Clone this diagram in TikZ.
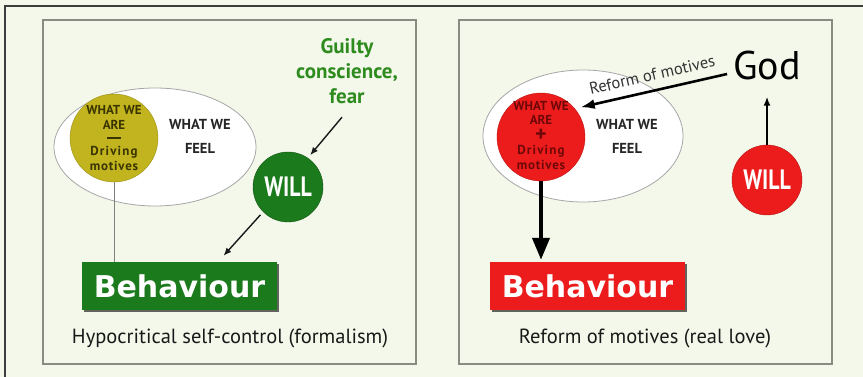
\documentclass[tikz,border=0pt]{standalone}
\usepackage{fontspec}
\usepackage{graphicx}
\setmainfont{PT Sans}
\newfontfamily\behfont{DejaVu Sans}
\usetikzlibrary{arrows.meta,shapes.geometric,shadows}
\definecolor{bg}{HTML}{F4F8EA}
\definecolor{panelline}{HTML}{8A8C84}
\definecolor{frameline}{HTML}{3C3C3C}
\definecolor{wgreen}{HTML}{1B7A1B}
\definecolor{tgreen}{HTML}{2E8B1E}
\definecolor{olive}{HTML}{C2B41E}
\definecolor{wred}{HTML}{EC1C1C}
\definecolor{darkred}{HTML}{6E0808}
\definecolor{olivetext}{HTML}{3A3500}
\begin{document}
\begin{tikzpicture}[x=1pt,y=-1pt,
  panel/.style={draw=panelline, line width=1.3pt},
  feelell/.style={ellipse, draw=gray!70, line width=0.8pt, fill=white, inner sep=0pt},
  corecircle/.style={circle, inner sep=0pt, minimum size=88pt},
  coretext/.style={inner sep=0pt, font=\bfseries\fontsize{13}{13}\selectfont},
  willcircle/.style={circle, inner sep=0pt, minimum size=70pt, text=white, font=\bfseries\fontsize{28}{28}\selectfont},
  behbox/.style={rectangle, minimum width=195pt, minimum height=48pt, inner sep=0pt, text=white,
    font=\behfont\bfseries\fontsize{30}{30}\selectfont, drop shadow={shadow xshift=1.5pt, shadow yshift=-1.5pt, opacity=0.6, fill=black}},
  feeltext/.style={align=center, font=\bfseries\fontsize{14.5}{24}\selectfont, text=black!85},
  caption/.style={font=\fontsize{20.5}{22}\selectfont, text=black!90},
  thinarrow/.style={draw=black!90, line width=1.4pt, -{Latex[length=8pt,width=6.5pt]}},
  godarrow/.style={draw=black, line width=2.6pt, -{Latex[length=14pt,width=10pt]}},
  uparrow/.style={draw=black, line width=2.5pt, -{Latex[length=9pt,width=7pt]}},
  downarrow/.style={draw=black, line width=4pt, -{Triangle[length=22pt,width=17pt]}}
]
\useasboundingbox (0,0) rectangle (863,377);
\fill[bg] (0,0) rectangle (863,377);
\draw[frameline, line width=1.5pt] (5,377) -- (5,6) -- (863,6);
\draw[panel] (43,20) rectangle (416,364);
\draw[panel] (459,20) rectangle (832,364);

% ---------- left panel ----------
\node[feelell, minimum width=202pt, minimum height=118pt] (feelL) at (155,147) {};
\node[feeltext] (feelLt) at (200,136) {WHAT WE\\FEEL};
\node[corecircle, fill=olive, draw=olive!80!black] (areL) at (114,138) {};
\begin{scope}[text=olivetext]
\node[coretext] (areL1) at (114,110) {WHAT WE};
\node[coretext] (areL2) at (114,125) {ARE};
\node[coretext] (areL4) at (114,152) {\addfontfeature{LetterSpace=9}Driving};
\node[coretext] (areL5) at (114,166) {\addfontfeature{LetterSpace=6}motives};
\end{scope}
\fill[olivetext] (107,137) rectangle (121,139.4);
\node[align=center, text=tgreen, font=\bfseries\fontsize{21}{25}\selectfont] (guilt) at (347,71) {Guilty\\conscience,\\fear};
\node[willcircle, fill=wgreen, draw=wgreen!70!black] (willL) at (288,187) {\scalebox{0.78}[1]{WILL}};
\node[behbox, fill=wgreen] (behL) at (179.5,286) {Behaviour};
\node[caption] (capL) at (230,338) {Hypocritical self-control (formalism)};

\draw[thinarrow] ([xshift=-5pt,yshift=-10pt]guilt.south) -- ([xshift=2pt,yshift=3pt]willL.55);
\draw[thinarrow, shorten <=4pt] (willL.225) -- ([xshift=44pt,yshift=6pt]behL.north);
\draw[gray, line width=0.8pt] (areL.south) -- (areL.south |- behL.north);

% ---------- right panel ----------
\node[feelell, minimum width=200pt, minimum height=132pt] (feelR) at (583,136) {};
\node[feeltext] (feelRt) at (627,136) {WHAT WE\\FEEL};
\node[corecircle, fill=wred, draw=wred!80!black] (areR) at (541,137) {};
\begin{scope}[text=darkred]
\node[coretext] (areR1) at (541,106) {WHAT WE};
\node[coretext] (areR2) at (541,120) {ARE};
\node[inner sep=0pt, font=\bfseries\fontsize{22}{22}\selectfont] (areR3) at (541,135.5) {+};
\node[coretext] (areR4) at (541,151) {\addfontfeature{LetterSpace=9}Driving};
\node[coretext] (areR5) at (541,165) {\addfontfeature{LetterSpace=6}motives};
\end{scope}
\node[inner sep=0pt, font=\fontsize{40}{40}\selectfont] (god) at (767,66) {God};
\node[willcircle, fill=wred, draw=wred!75!black] (willR) at (767,180) {\scalebox{0.78}[1]{WILL}};
\node[behbox, fill=wred] (behR) at (587.5,286) {Behaviour};
\node[caption] (capR) at (645,338) {Reform of motives (real love)};

\draw[godarrow, shorten >=6pt] ([xshift=-6pt,yshift=-8pt]god.west) --
  node[sloped, above=5pt, pos=0.47, font=\fontsize{16.5}{16.5}\selectfont, text=black!80] (reflabel) {Reform of motives} (areR.40);
\draw[uparrow] (willR.north) -- ([yshift=-16pt]god.south);
\draw[downarrow, shorten >=2pt] (areR.south) -- (areR.south |- behR.north);
\end{tikzpicture}
\end{document}
